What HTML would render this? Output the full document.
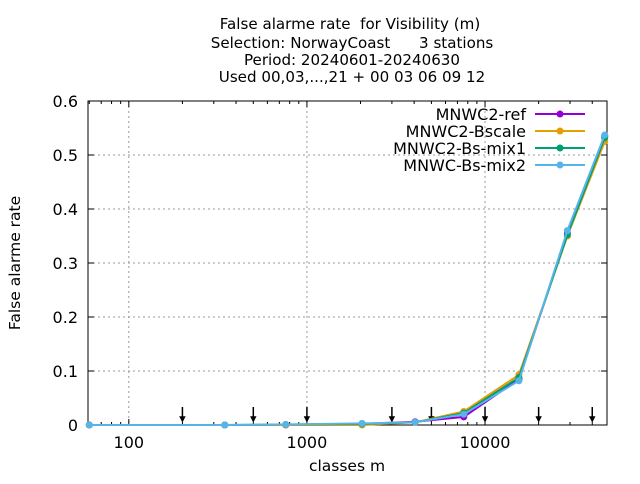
<!DOCTYPE html>
<html><head><meta charset="utf-8"><style>
body{margin:0;background:#fff;font-family:"DejaVu Sans",sans-serif}
svg text{font-family:"DejaVu Sans",sans-serif;white-space:pre}
</style></head><body>
<svg id="c" width="640" height="480">
<g font-size="15.1" text-anchor="middle">
<text x="350" y="29">False alarme rate  for Visibility (m)</text>
<text x="352" y="48">Selection: NorwayCoast      3 stations</text>
<text x="352" y="65">Period: 20240601-20240630</text>
<text x="352" y="82">Used 00,03,...,21 + 00 03 06 09 12</text>
</g>
<text x="20" y="263" font-size="15.5" text-anchor="middle" transform="rotate(-90 20 263)">False alarme rate</text>
<text x="347" y="471" font-size="15.5" text-anchor="middle">classes m</text>
<g id="grid"></g><g id="axes"></g><g id="series"></g><g id="legend"></g>
</svg>
<script>
const xTicks=[100,1000,10000];
const yTicks=[0,0.1,0.2,0.3,0.4,0.5,0.6];
const arrowClasses=[200,500,1000,3000,5000,10000,20000,40000];
const classes=[60,346,760,2040,4050,7600,15500,29000,47000];
const seriesNames=["MNWC2-ref","MNWC2-Bscale","MNWC2-Bs-mix1","MNWC-Bs-mix2"];
const colors=["#9400d3","#e69f00","#009e73","#56b4e9"];
const ref=[0,0,0,0.002,0.006,0.015,0.085,0.355,0.535];
const bscale=[0,0,0,0,0.005,0.025,0.093,0.35,0.525];
const mix1=[0,0,0.001,0.002,0.005,0.022,0.088,0.352,0.532];
const mix2=[0,0,0.001,0.003,0.005,0.02,0.082,0.36,0.537];
const seriesData=[ref,bscale,mix1,mix2];
const L=88,R=607,T=101,B=425,ns="http://www.w3.org/2000/svg";
const lmin=Math.log10(59),lmax=Math.log10(48400);
function X(v){return L+(Math.log10(v)-lmin)/(lmax-lmin)*(R-L);}
function Y(v){return B-v/0.6*(B-T);}
function mk(tag,at,par){const e=document.createElementNS(ns,tag);for(const k in at)e.setAttribute(k,at[k]);document.getElementById(par).appendChild(e);return e;}
yTicks.forEach(t=>{const y=Y(t);
 if(t>0&&t<0.6){const g=mk('line',{x1:L,x2:R,y1:y,y2:y,stroke:'#999','stroke-dasharray':'2,3'},'grid');}
 const tk=mk('path',{d:`M${L} ${y}h6M${R} ${y}h-6`,stroke:'#000'},'axes');
 const tx=mk('text',{x:L-10,y:y+6,'font-size':16,'text-anchor':'end'},'axes');tx.textContent=t===0?'0':t.toFixed(1);});
for(let d=10;d<=10000;d*=10)for(let m=1;m<10;m++){const v=d*m;const x=X(v);if(x<L||x>R)continue;
 const major=m===1;const tk=mk('path',{d:`M${x} ${B}v${major?-6:-3}M${x} ${T}v${major?6:3}`,stroke:'#000'},'axes');}
xTicks.forEach(t=>{const x=X(t);
 const g=mk('line',{x1:x,x2:x,y1:T,y2:B,stroke:'#999','stroke-dasharray':'2,3'},'grid');
 const tx=mk('text',{x:x,y:B+23,'font-size':16,'text-anchor':'middle'},'axes');tx.textContent=t;});
const fr=mk('rect',{x:L,y:T,width:R-L,height:B-T,fill:'none',stroke:'#000'},'axes');
arrowClasses.forEach(c=>{const x=X(c);
 const a=mk('path',{d:`M${x} ${B-18}V${B-5}M${x-2} ${B-8}L${x} ${B-4}L${x+2} ${B-8}Z`,stroke:'#000','stroke-width':1.5,fill:'#000'},'axes');});
seriesData.forEach((s,i)=>{const pts=s.map((v,j)=>X(classes[j])+','+Y(v)).join(' ');
 const p=mk('polyline',{points:pts,fill:'none',stroke:colors[i],'stroke-width':2},'series');
 s.forEach((v,j)=>{const c=mk('circle',{cx:X(classes[j]),cy:Y(v),r:3.5,fill:colors[i]},'series');});
 const ly=114+i*17;
 const t=mk('text',{x:526,y:ly+6,'font-size':16,'text-anchor':'end'},'legend');t.textContent=seriesNames[i];
 const l=mk('line',{x1:535,x2:585,y1:ly,y2:ly,stroke:colors[i],'stroke-width':2},'legend');
 const lc=mk('circle',{cx:560,cy:ly,r:3.5,fill:colors[i]},'legend');});
</script>
</body></html>
